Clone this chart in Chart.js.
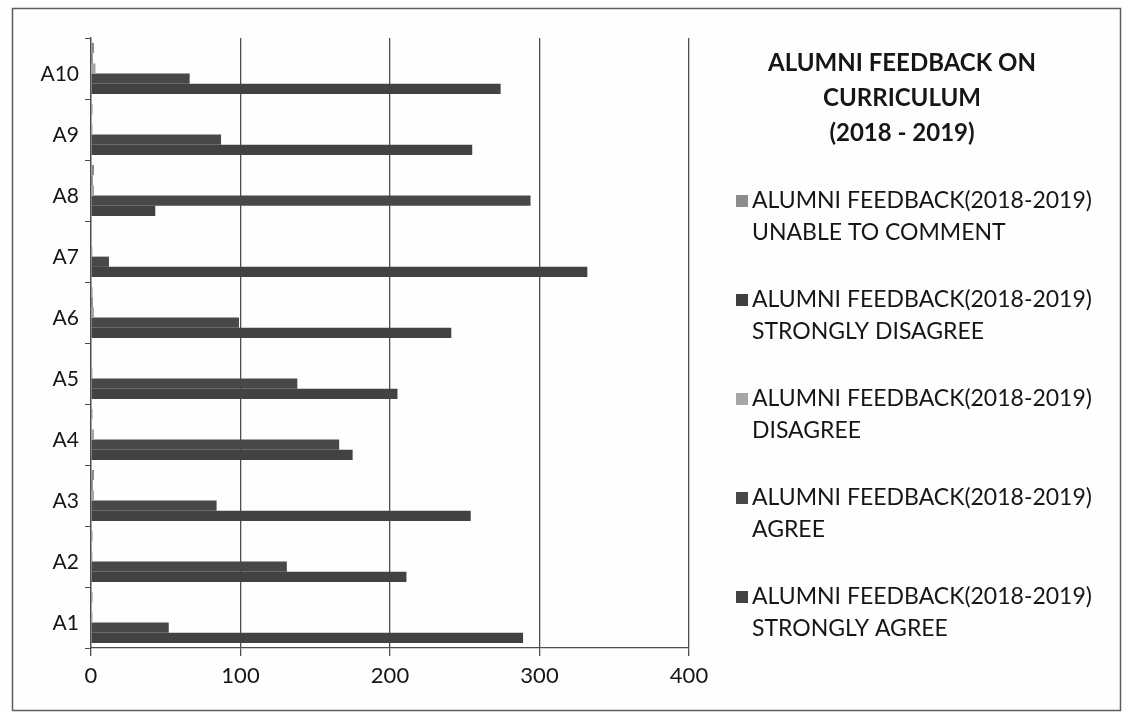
<!DOCTYPE html>
<html>
<head>
<meta charset="utf-8">
<script src="https://cdn.jsdelivr.net/npm/chart.js@4.4.1/dist/chart.umd.min.js"></script>
<style>
  html, body { margin: 0; padding: 0; background: #ffffff; }
  #wrap { width: 1129px; height: 714px; position: relative; }
</style>
</head>
<body>
<div id="wrap"><canvas id="chart"></canvas></div>
<script>
// categories, bottom (A1) to top (A10)
const categories = ['A1', 'A2', 'A3', 'A4', 'A5', 'A6', 'A7', 'A8', 'A9', 'A10'];

const seriesPrefix = 'ALUMNI FEEDBACK(2018-2019)';
const seriesNames = ['UNABLE TO COMMENT', 'STRONGLY DISAGREE', 'DISAGREE', 'AGREE', 'STRONGLY AGREE'];

const unableToComment = [1, 1, 2, 1, 0, 1, 0, 2, 1, 2];
const stronglyDisagree = [0, 0, 1, 0, 0, 1, 0, 1, 0, 1];
const disagree = [1, 1, 2, 2, 1, 2, 1, 2, 1, 3];
const agree = [52, 131, 84, 166, 138, 99, 12, 294, 87, 66];
const stronglyAgree = [289, 211, 254, 175, 205, 241, 332, 43, 255, 274];

const xTicks = [0, 100, 200, 300, 400];
const titleLines = ['ALUMNI FEEDBACK ON', 'CURRICULUM', '(2018 - 2019)'];

const seriesColors = ['#8c8c8c', '#3f3f3f', '#a6a6a6', '#484848', '#424242'];
const seriesValues = [unableToComment, stronglyDisagree, disagree, agree, stronglyAgree];

const FONT = 'Lato, "Open Sans", sans-serif';
const TEXT = '#161616';

// frame around the whole picture
const framePlugin = {
    id: 'frame',
    beforeDraw(chart) {
        const ctx = chart.ctx;
        ctx.save();
        ctx.fillStyle = '#fefefe';
        ctx.fillRect(0, 0, chart.width, chart.height);
        ctx.strokeStyle = '#5e5e5e';
        ctx.lineWidth = 1.5;
        ctx.strokeRect(12.5, 8.5, 1108, 702);
        ctx.restore();
    }
};

// title and two-line legend on the right side
const sideLegendPlugin = {
    id: 'sideLegend',
    afterDraw(chart) {
        const ctx = chart.ctx;
        ctx.save();
        ctx.fillStyle = TEXT;
        ctx.textAlign = 'center';
        ctx.textBaseline = 'middle';
        ctx.font = 'bold 24px ' + FONT;
        titleLines.forEach((line, i) => ctx.fillText(line, 902, 63 + i * 35));

        ctx.textAlign = 'left';
        ctx.font = '23px ' + FONT;
        chart.data.datasets.forEach((ds, i) => {
            const y = 201 + i * 99;
            ctx.fillStyle = ds.backgroundColor;
            ctx.fillRect(736, y - 6, 12, 12);
            ctx.fillStyle = TEXT;
            ctx.fillText(seriesPrefix, 752, y);
            ctx.fillText(seriesNames[i], 752, y + 32);
        });
        ctx.restore();
    }
};

const datasets = seriesNames.map((name, i) => ({
    label: seriesPrefix + ' ' + name,
    data: seriesValues[i],
    backgroundColor: seriesColors[i],
    borderWidth: 0,
    categoryPercentage: 0.84,
    barPercentage: 1.0
}));

new Chart(document.getElementById('chart'), {
    type: 'bar',
    data: { labels: categories, datasets: datasets },
    options: {
        indexAxis: 'y',
        responsive: true,
        maintainAspectRatio: false,
        animation: false,
        layout: { padding: { left: 0, top: 38, right: 1129 - 689, bottom: 17 } },
        scales: {
            x: {
                min: 0,
                max: 400,
                afterBuildTicks: s => { s.ticks = xTicks.map(v => ({ value: v })); },
                afterFit: s => { s.height = 49; },
                grid: { color: '#4e4e4e', lineWidth: 1.3, tickLength: 8, drawTicks: true },
                border: { color: '#4e4e4e', width: 1.3 },
                ticks: { color: TEXT, font: { family: FONT, size: 22 }, padding: 7 }
            },
            y: {
                reverse: true,
                afterFit: s => { s.width = 91; },
                grid: { display: true, drawOnChartArea: false, offset: true, tickLength: 6, color: '#4e4e4e' },
                border: { color: '#4e4e4e', width: 1.3 },
                ticks: { color: TEXT, font: { family: FONT, size: 21 }, padding: 6, labelOffset: 6 }
            }
        },
        plugins: {
            legend: { display: false },
            title: { display: false },
            tooltip: { enabled: false }
        }
    },
    plugins: [framePlugin, sideLegendPlugin]
});
</script>
</body>
</html>
